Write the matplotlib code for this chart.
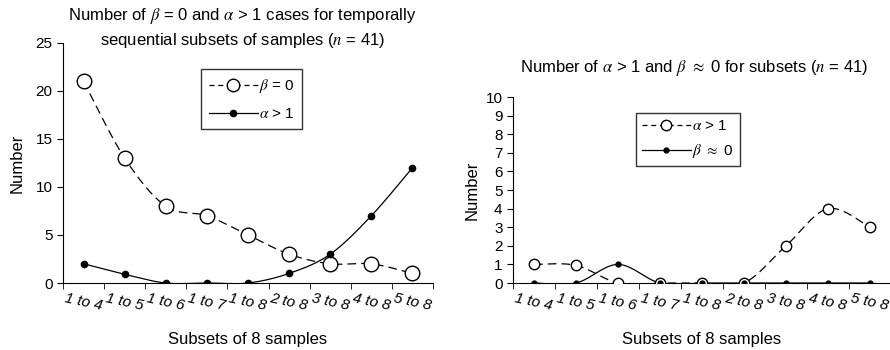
import matplotlib
matplotlib.use("Agg")
import matplotlib.pyplot as plt
import numpy as np
from matplotlib.lines import Line2D

plt.rcParams["font.family"] = ["Liberation Sans", "DejaVu Sans"]
plt.rcParams["mathtext.fontset"] = "stix"

# category labels (subsets of 8 samples)
subsets = ["1 to 4", "1 to 5", "1 to 6", "1 to 7", "1 to 8",
           "2 to 8", "3 to 8", "4 to 8", "5 to 8"]

# left panel
left_beta0 = [21, 13, 8, 7, 5, 3, 2, 2, 1]
left_alpha1 = [2, 0.9, 0, 0, 0, 1, 3, 7, 12]

# right panel
right_alpha1 = [1, 0.95, 0, 0, 0, 0, 2, 4, 3]
right_beta0 = [0, 0, 1, 0, 0, 0, 0, 0, 0]


def smooth(x, y, n=30):
    # excel-style smoothed line: cubic bezier through the points
    p = np.column_stack([x, y]).astype(float)
    ext = np.vstack([p[0], p, p[-1]])
    out = []
    for i in range(len(p) - 1):
        p0, p1, p2, p3 = ext[i], ext[i + 1], ext[i + 2], ext[i + 3]
        c1 = p1 + (p2 - p0) / 6.0
        c2 = p2 - (p3 - p1) / 6.0
        t = np.linspace(0, 1, n)[:, None]
        seg = ((1 - t) ** 3) * p1 + 3 * ((1 - t) ** 2) * t * c1 + 3 * (1 - t) * t ** 2 * c2 + t ** 3 * p2
        out.append(seg if i == 0 else seg[1:])
    seg = np.vstack(out)
    return seg[:, 0], seg[:, 1]


def draw_series(ax, x, y, dashed, ms_open, ms_dot):
    sx, sy = smooth(x, y)
    if dashed:
        ax.plot(sx, sy, color="black", lw=0.9, dashes=(7, 4), zorder=2)
        ax.plot(x, y, "o", ms=ms_open, mfc="white", mec="black", mew=1.0, zorder=3)
    else:
        ax.plot(sx, sy, color="black", lw=0.9, zorder=2)
        ax.plot(x, y, "o", ms=ms_dot, mfc="black", mec="black", zorder=4)


def style_axes(ax, n):
    ax.spines["top"].set_visible(False)
    ax.spines["right"].set_visible(False)
    ax.set_xlim(0, n)
    ax.set_xticks(np.arange(n + 1), minor=True)
    ax.set_xticks(np.arange(n) + 0.5)
    ax.set_xticklabels(subsets, rotation=-12, fontstyle="italic",
                       fontsize=11, ha="center")
    ax.tick_params(axis="x", which="major", length=0, pad=6)
    ax.tick_params(axis="x", which="minor", length=4.5, direction="out")
    ax.tick_params(axis="y", length=4, direction="out", labelsize=11)


fig = plt.figure(figsize=(8.9, 3.5), dpi=100)
xs = np.arange(len(subsets)) + 0.5

# left panel
ax1 = fig.add_axes([0.0708, 0.1914, 0.4157, 0.686])
draw_series(ax1, xs, left_beta0, True, 10.5, 4.5)
draw_series(ax1, xs, left_alpha1, False, 10.5, 4.5)
style_axes(ax1, len(subsets))
ax1.set_ylim(0, 25)
ax1.set_yticks([0, 5, 10, 15, 20, 25])
ax1.set_ylabel("Number", fontsize=12, labelpad=8)
ax1.set_xlabel("Subsets of 8 samples", fontsize=12, labelpad=14)
h1 = [Line2D([], [], color="black", lw=0.9, dashes=(4, 3), marker="o", ms=9,
             mfc="white", mec="black"),
      Line2D([], [], color="black", lw=0.9, marker="o", ms=4.5, mfc="black")]
leg1 = ax1.legend(h1, [r"$\beta$ = 0", r"$\alpha$ > 1"], loc="upper left",
                  bbox_to_anchor=(0.373, 0.89), frameon=True, fancybox=False,
                  fontsize=11, handlelength=3.2, handletextpad=0.1,
                  borderpad=0.5, labelspacing=0.8, borderaxespad=0)
leg1.get_frame().set_edgecolor("black")
leg1.get_frame().set_linewidth(1.0)
fig.text(0.272, 1 - 16 / 350, r"Number of $\beta$ = 0 and $\alpha$ > 1 cases for temporally",
         ha="center", va="center", fontsize=12)
fig.text(0.272, 1 - 40 / 350, r"sequential subsets of samples ($n$ = 41)",
         ha="center", va="center", fontsize=12)

# right panel
ax2 = fig.add_axes([0.5764, 0.1914, 0.4247, 0.5314])
draw_series(ax2, xs, right_alpha1, True, 7.5, 3.5)
draw_series(ax2, xs, right_beta0, False, 7.5, 3.5)
style_axes(ax2, len(subsets))
ax2.set_ylim(0, 10)
ax2.set_yticks(np.arange(0, 11))
ax2.set_ylabel("Number", fontsize=12, labelpad=4)
ax2.set_xlabel("Subsets of 8 samples", fontsize=12, labelpad=14)
h2 = [Line2D([], [], color="black", lw=0.9, dashes=(4, 3), marker="o", ms=7.5,
             mfc="white", mec="black"),
      Line2D([], [], color="black", lw=0.9, marker="o", ms=3.5, mfc="black")]
leg2 = ax2.legend(h2, [r"$\alpha$ > 1", r"$\beta$ $\approx$ 0"], loc="upper left",
                  bbox_to_anchor=(0.325, 0.914), frameon=True, fancybox=False,
                  fontsize=11, handlelength=3.2, handletextpad=0.1,
                  borderpad=0.4, labelspacing=0.6, borderaxespad=0)
leg2.get_frame().set_edgecolor("black")
leg2.get_frame().set_linewidth(1.0)
fig.text(0.78, 1 - 68 / 350, r"Number of $\alpha$ > 1 and $\beta$ $\approx$ 0 for subsets ($n$ = 41)",
         ha="center", va="center", fontsize=12)

fig.savefig("out.png", dpi=100)
